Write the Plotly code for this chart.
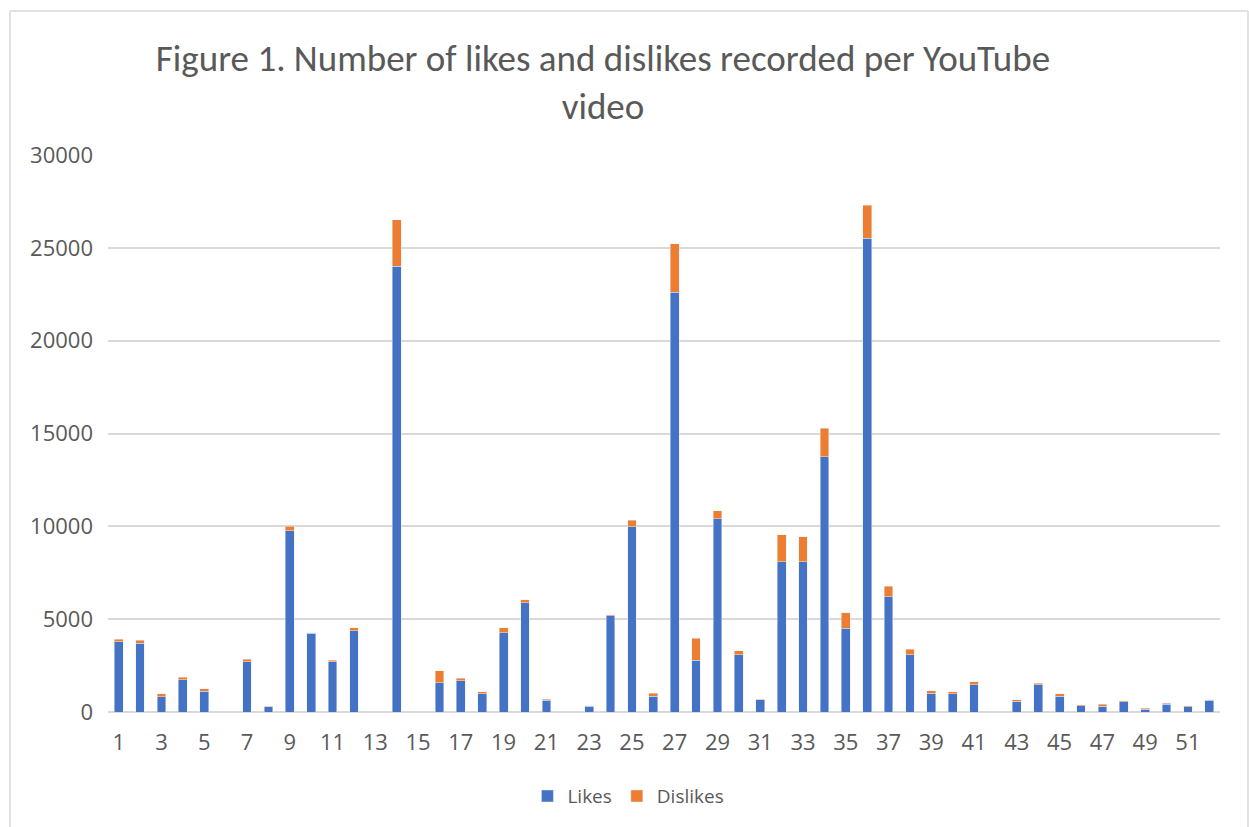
import plotly.graph_objects as go

videos = list(range(1, 53))
likes = [3780, 3690, 810, 1730, 1130, 0, 2700, 270, 9770, 4230,
         2700, 4370, 0, 24000, 0, 1580, 1690, 970, 4280, 5880,
         630, 0, 310, 5180, 9980, 860, 22600, 2790, 10400, 3080,
         650, 8100, 8100, 13760, 4500, 25520, 6200, 3080, 1010, 970,
         1480, 0, 580, 1480, 860, 340, 320, 540, 160, 430,
         270, 630]
dislikes = [150, 180, 160, 140, 130, 0, 140, 30, 230, 40,
            90, 160, 0, 2500, 0, 630, 140, 110, 250, 170,
            50, 0, 30, 70, 360, 160, 2630, 1170, 430, 220,
            50, 1440, 1330, 1530, 850, 1770, 580, 300, 130, 130,
            160, 0, 90, 70, 110, 50, 90, 70, 40, 50,
            70, 40]
y_ticks = [0, 5000, 10000, 15000, 20000, 25000, 30000]
x_ticks = list(range(1, 53, 2))

TITLE_FONT = "Carlito, Calibri, Lato, sans-serif"
FONT = "'Open Sans', sans-serif"
GREY_TXT = "#595959"
GRID = "#D9D9D9"

fig = go.Figure()
fig.add_trace(go.Bar(x=videos, y=likes, name="Likes", marker_color="#4472C4"))
fig.add_trace(go.Bar(x=videos, y=dislikes, name="Dislikes", marker_color="#ED7D31"))

fig.update_layout(
    width=1249, height=827,
    barmode="stack", bargap=0.59,
    paper_bgcolor="white", plot_bgcolor="white",
    margin=dict(l=108, r=29, t=155, b=115),
    font=dict(family=FONT, color=GREY_TXT, size=20),
    title=dict(
        text="Figure 1. Number of likes and dislikes recorded per YouTube<br>video",
        x=603 / 1249, xanchor="center", xref="container",
        y=1 - 71 / 827, yanchor="top", yref="container",
        font=dict(family=TITLE_FONT, size=37, color=GREY_TXT),
    ),
    legend=dict(
        orientation="h", x=0.468, xanchor="center", y=-0.151, yanchor="middle",
        font=dict(family=FONT, size=19, color=GREY_TXT), traceorder="normal",
    ),
    xaxis=dict(
        range=[0.5, 52.5], tickmode="array", tickvals=x_ticks,
        ticktext=[str(v) for v in x_ticks], showgrid=False, ticks="",
        showline=False, zeroline=False, ticklabelstandoff=15,
        tickfont=dict(family=FONT, size=22, color=GREY_TXT),
    ),
    yaxis=dict(
        range=[0, 30000], tickmode="array", tickvals=y_ticks,
        ticktext=[str(v) for v in y_ticks], showgrid=True, gridcolor=GRID,
        gridwidth=1.5, zeroline=True, zerolinecolor=GRID, zerolinewidth=1.5,
        showline=False, ticks="", ticklabelstandoff=14,
        tickfont=dict(family=FONT, size=22, color=GREY_TXT),
    ),
    showlegend=True,
)

# outer chart border (light grey frame)
fig.add_shape(type="line", xref="paper", yref="paper",
              x0=(10 - 108) / 1112, x1=(1248 - 108) / 1112,
              y0=(712 - 11) / 557, y1=(712 - 11) / 557,
              line=dict(color=GRID, width=1.5))
fig.add_shape(type="line", xref="paper", yref="paper",
              x0=(10 - 108) / 1112, x1=(10 - 108) / 1112,
              y0=(712 - 11) / 557, y1=-0.3,
              line=dict(color=GRID, width=1.5))
fig.add_shape(type="line", xref="paper", yref="paper",
              x0=(1248 - 108) / 1112, x1=(1248 - 108) / 1112,
              y0=(712 - 11) / 557, y1=-0.3,
              line=dict(color=GRID, width=1.5))

fig.write_html("out.html")
